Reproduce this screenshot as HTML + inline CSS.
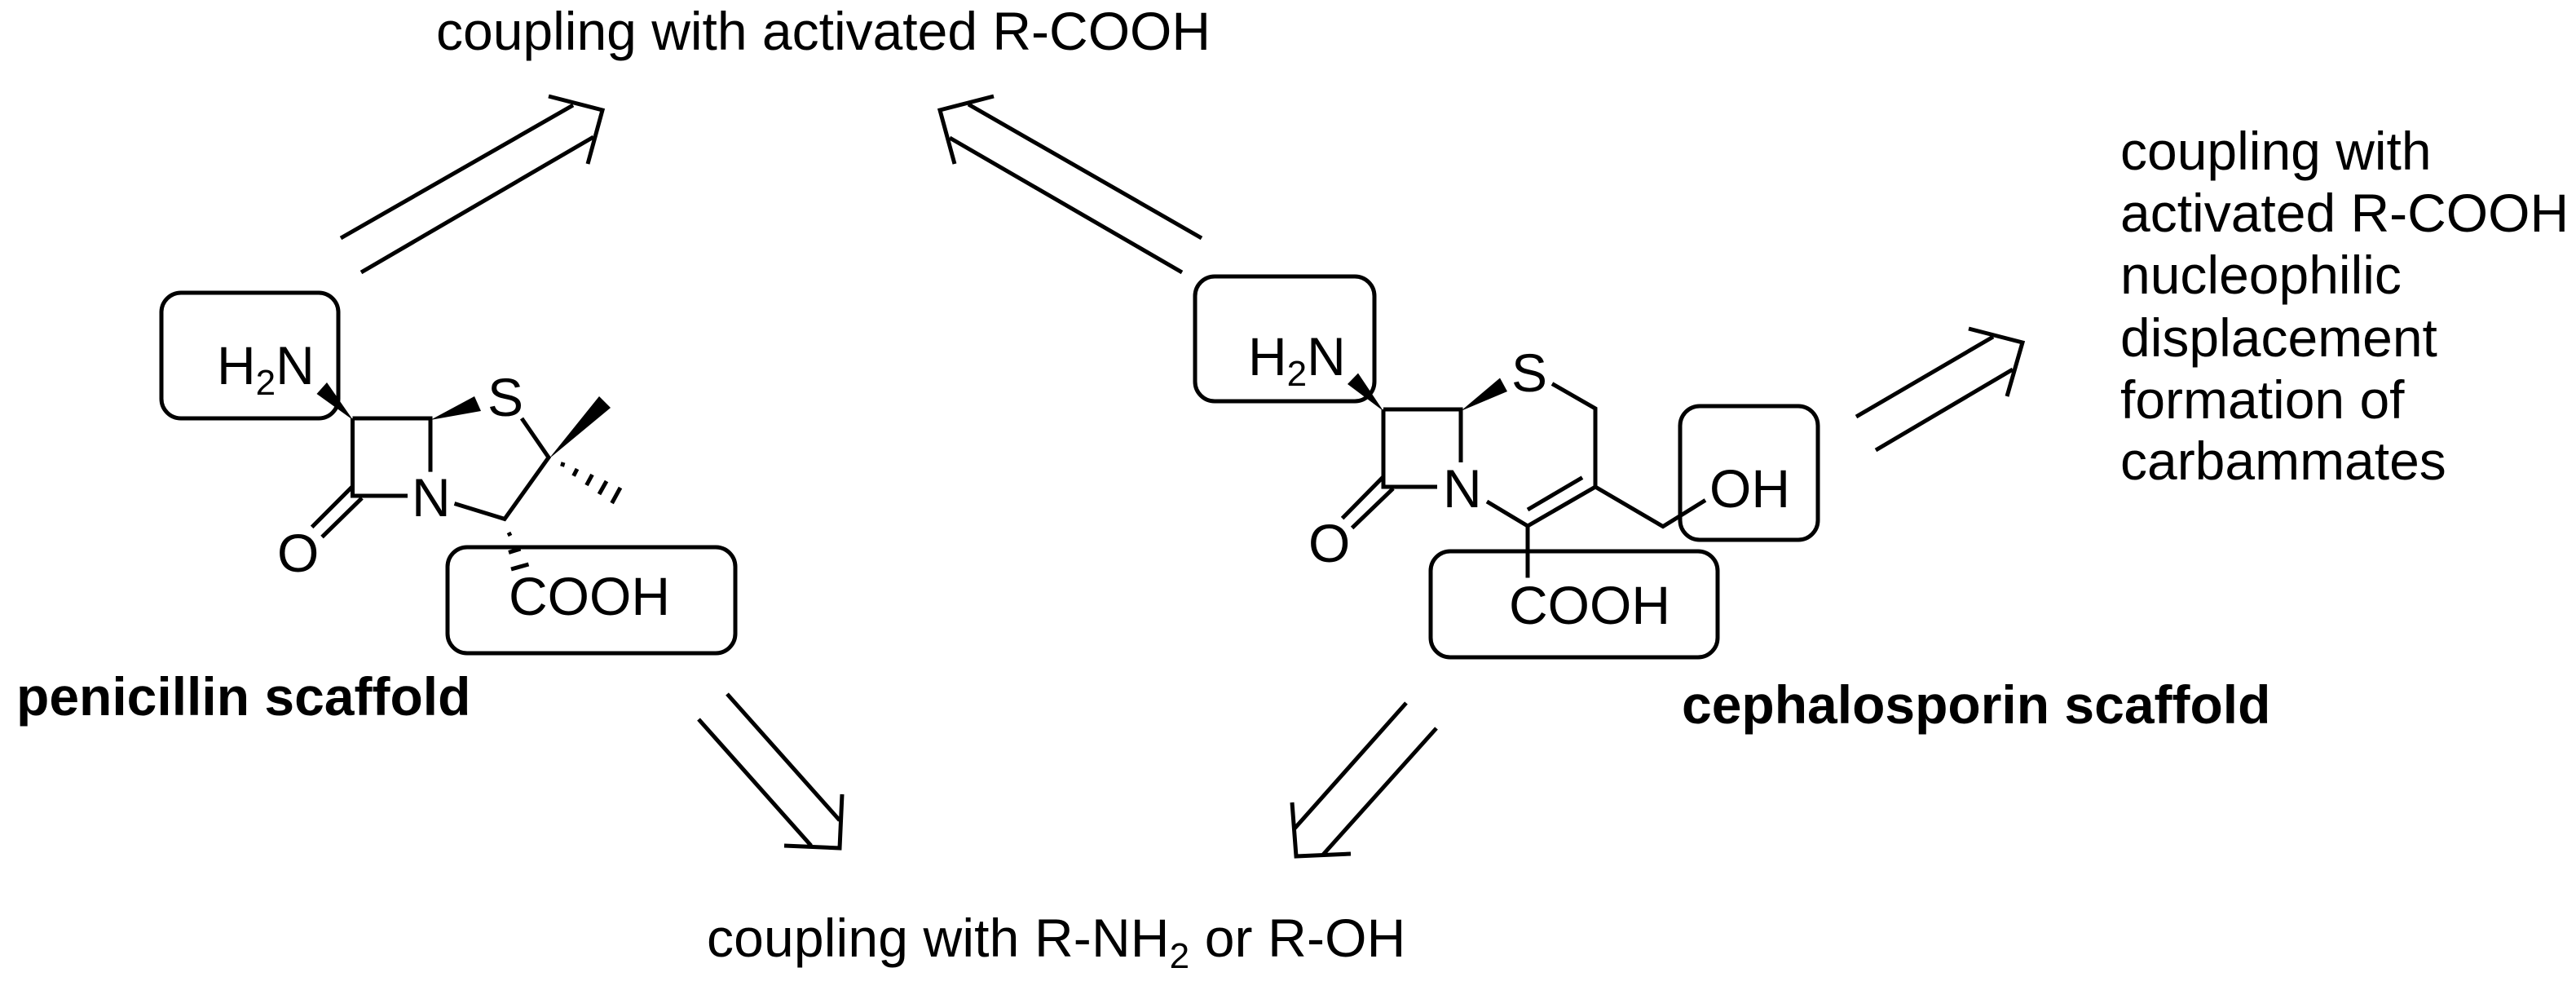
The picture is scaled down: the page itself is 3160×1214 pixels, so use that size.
<!DOCTYPE html>
<html>
<head>
<meta charset="utf-8">
<style>
html,body{margin:0;padding:0;background:#fff;}
svg{display:block;}
text{font-family:"Liberation Sans",Arial,sans-serif;font-size:66px;fill:#000;}
.b{font-weight:bold;}
.s{font-size:44px;}
.l{stroke:#000;stroke-width:5;fill:none;stroke-linecap:butt;stroke-linejoin:miter;}
.r{stroke:#000;stroke-width:5;fill:none;}
</style>
</head>
<body>
<svg width="3160" height="1214" viewBox="0 0 3160 1214" xmlns="http://www.w3.org/2000/svg">
<rect width="3160" height="1214" fill="#fff"/>

<!-- labels -->
<text x="535" y="61">coupling with activated R-COOH</text>
<text x="2601" y="208">coupling with</text>
<text x="2601" y="284">activated R-COOH</text>
<text x="2601" y="360">nucleophilic</text>
<text x="2601" y="437">displacement</text>
<text x="2601" y="513">formation of</text>
<text x="2601" y="588">carbammates</text>
<text x="867" y="1173" letter-spacing="0.15">coupling with R-NH<tspan class="s" dy="14">2</tspan><tspan dy="-14"> or R-OH</tspan></text>
<text class="b" x="20" y="877">penicillin scaffold</text>
<text class="b" x="2063" y="887">cephalosporin scaffold</text>

<!-- arrows -->
<g class="l">
<path d="M418 292L703 129M443 334L728 168M673 118L739 135L721 201"/>
<path d="M1474 292L1188 128M1450 334L1165 169M1219 118L1153 135L1171 201"/>
<path d="M2277 511L2445 413M2301 552L2469 453M2415 403L2481 420L2462 486"/>
<path d="M892 851L1030 1006M857 882L995 1037M1033 974L1030 1040L962 1037"/>
<path d="M1725 862L1588 1016M1762 893L1623 1048M1585 984L1590 1050L1657 1047"/>
</g>

<!-- penicillin -->
<rect class="r" x="198" y="359" width="217" height="154" rx="24" ry="24"/>
<rect class="r" x="549" y="671" width="353" height="130" rx="24" ry="24"/>
<g class="l">
<path d="M432.5 513H528V578.6M432.5 513V608H500"/>
<path d="M640 513L673 561L619 636.4L557.5 617.5"/>
<path d="M432.5 596.4L382.6 646.4M444 610.7L395 658.6"/>
<path d="M691 567L689.5 572M708 575L703.6 583.6M726.5 582L719.5 595M744 590L735 606M761 598L750.6 617"/>
<path d="M624 653L626 657M624 677.5L638.5 673M627 698L648.5 692"/>
</g>
<polygon points="433,515 388.5,483 401,469" fill="#000"/>
<polygon points="528,515 582,486 590,504" fill="#000"/>
<polygon points="673,563 735,486 749,500" fill="#000"/>
<text x="266" y="471">H<tspan class="s" dy="13">2</tspan><tspan dy="-13">N</tspan></text>
<text x="505" y="633">N</text>
<text x="598" y="510">S</text>
<text x="340" y="701">O</text>
<text x="624" y="754">COOH</text>

<!-- cephalosporin -->
<rect class="r" x="1466" y="339" width="220" height="153" rx="24" ry="24"/>
<rect class="r" x="2061" y="498" width="169" height="164" rx="24" ry="24"/>
<rect class="r" x="1755" y="676" width="352" height="130" rx="24" ry="24"/>
<g class="l">
<path d="M1697 502H1792V567M1697 502V597H1763"/>
<path d="M1904 470.6L1957 501V597L1874 645L1824 615"/>
<path d="M1941 585.6L1874 625"/>
<path d="M1874 645V708.5"/>
<path d="M1957 597L2040 645.6L2092 613.4"/>
<path d="M1697 584.5L1646.6 635.6M1709 599L1658.6 647.4"/>
</g>
<polygon points="1697,504 1653,471 1666,457.6" fill="#000"/>
<polygon points="1792,504 1840,463.5 1849,480" fill="#000"/>
<text x="1531" y="460">H<tspan class="s" dy="13">2</tspan><tspan dy="-13">N</tspan></text>
<text x="1770" y="622">N</text>
<text x="1854" y="480">S</text>
<text x="1605" y="689">O</text>
<text x="1851" y="765">COOH</text>
<text x="2097" y="622">OH</text>
</svg>
</body>
</html>
